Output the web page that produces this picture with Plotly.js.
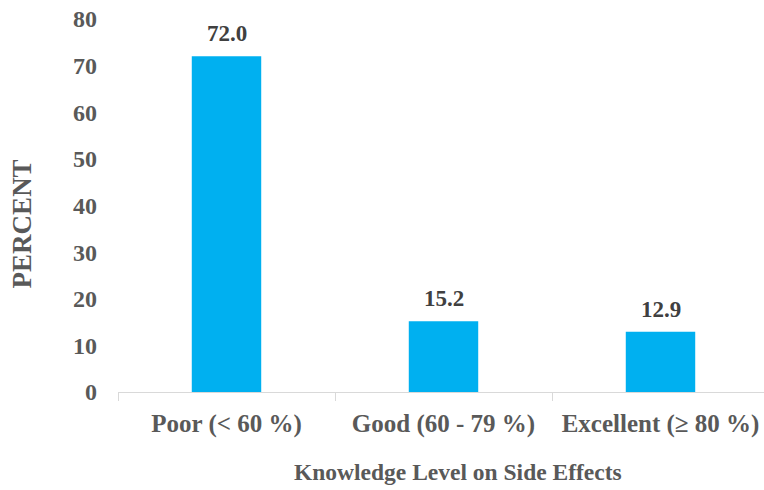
<!DOCTYPE html>
<html>
<head>
<meta charset="utf-8">
<script src="https://cdn.plot.ly/plotly-3.0.1.min.js"></script>
<style>
html,body{margin:0;padding:0;overflow:hidden;background:#fff;}
#chart{width:769px;height:490px;}
</style>
</head>
<body>
<div id="chart"></div>
<script>
const categories = ["Poor (< 60 %)", "Good (60 - 79 %)", "Excellent (≥ 80 %)"];
const percents = [72.0, 15.2, 12.9];
const valueLabels = ["72.0", "15.2", "12.9"];
const yTicks = [0, 10, 20, 30, 40, 50, 60, 70, 80];

const FONT = "Liberation Serif, Times New Roman, serif";
const GREY = "#595959";

const trace = {
  type: "bar",
  x: categories,
  y: percents,
  marker: {color: "#00B0F0"},
  hoverinfo: "none"
};

const annotations = categories.map((c, i) => ({
  x: c, y: percents[i], xref: "x", yref: "y",
  text: valueLabels[i], showarrow: false,
  yanchor: "bottom", yshift: 8,
  font: {family: FONT, size: 23, color: "#404040", weight: "bold"}
}));
annotations.push({
  xref: "paper", yref: "paper", x: 0.522, y: -0.214,
  text: "Knowledge Level on Side Effects", showarrow: false,
  xanchor: "center", yanchor: "middle",
  font: {family: FONT, size: 23.5, color: GREY, weight: "bold"}
});
annotations.push({
  xref: "paper", yref: "paper", x: -0.1475, y: 0.452,
  text: "PERCENT", showarrow: false, textangle: -90,
  xanchor: "center", yanchor: "middle",
  font: {family: FONT, size: 27, color: GREY, weight: "bold"}
});

const layout = {
  width: 769, height: 490,
  margin: {l: 118, r: 0, t: 19, b: 98},
  paper_bgcolor: "#fff", plot_bgcolor: "#fff",
  bargap: 0.68,
  showlegend: false,
  xaxis: {
    showline: true, linecolor: "#d9d9d9", linewidth: 1,
    ticks: "outside", tickson: "boundaries", ticklen: 8, tickcolor: "#d9d9d9",
    ticklabelstandoff: 9,
    tickfont: {family: FONT, size: 25, color: GREY, weight: "bold"},
    showgrid: false, zeroline: false, fixedrange: true
  },
  yaxis: {
    range: [0, 80], tickvals: yTicks,
    showline: false, ticks: "", showgrid: false, zeroline: false,
    ticklabelstandoff: 20,
    tickfont: {family: FONT, size: 24, color: GREY, weight: "bold"},
    fixedrange: true
  },
  annotations: annotations
};

Plotly.newPlot("chart", [trace], layout, {displayModeBar: false, staticPlot: true});
</script>
</body>
</html>
